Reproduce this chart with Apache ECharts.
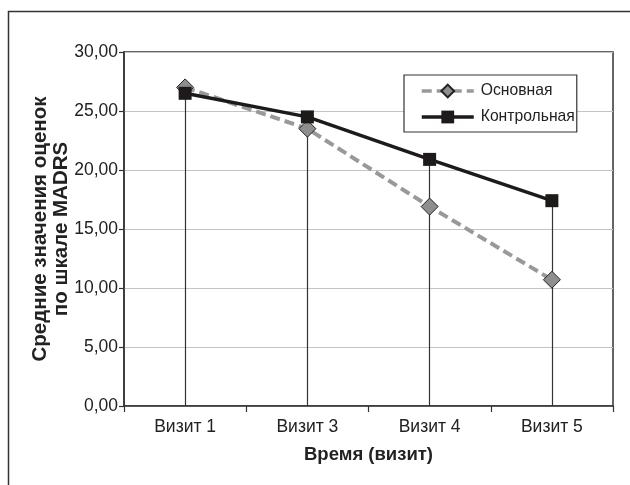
<!DOCTYPE html>
<html>
<head>
<meta charset="utf-8">
<script src="https://cdn.jsdelivr.net/npm/echarts@6/dist/echarts.min.js"></script>
<style>
  html, body { margin: 0; padding: 0; background: #fff; }
  #chart { width: 630px; height: 485px; }
</style>
</head>
<body>
<div id="chart"></div>
<script>
// Visits and mean MADRS scores per group
const visits = ['Визит 1', 'Визит 3', 'Визит 4', 'Визит 5'];
const mainGroup = [27.0, 23.5, 16.9, 10.7];
const controlGroup = [26.5, 24.5, 20.9, 17.4];
const yTicks = [0, 5, 10, 15, 20, 25, 30];

const FONT = '"Liberation Sans", Arial, sans-serif';
const chart = echarts.init(document.getElementById('chart'));

// Drop lines: from the higher of the two points down to the axis
const dropLines = visits.map((v, i) => [
  { coord: [i, Math.max(mainGroup[i], controlGroup[i])] },
  { coord: [i, 0] }
]);

chart.setOption({
  animation: false,
  backgroundColor: '#fff',
  textStyle: { fontFamily: FONT },
  graphic: [{
    type: 'rect',
    shape: { x: 8.5, y: 11.5, width: 660, height: 520 },
    style: { fill: 'none', stroke: '#333', lineWidth: 1.5 },
    z: -1
  }],
  grid: {
    left: 124, top: 52, width: 489, height: 354,
    show: true, borderColor: '#333', borderWidth: 1.5, backgroundColor: 'transparent'
  },
  legend: {
    left: 404, top: 75,
    orient: 'vertical',
    padding: [8, 2, 7, 16],
    itemGap: 10,
    itemWidth: 52, itemHeight: 16,
    borderColor: '#333', borderWidth: 1.2, backgroundColor: '#fff',
    lineStyle: { width: 3.5 },
    textStyle: { fontFamily: FONT, fontSize: 15.7, color: '#222', padding: [0, 0, 0, 2] },
    data: ['Основная', 'Контрольная']
  },
  xAxis: {
    type: 'category',
    data: visits,
    boundaryGap: true,
    name: 'Время (визит)',
    nameLocation: 'middle',
    nameGap: 39,
    nameMoveOverlap: false,
    nameTextStyle: { fontFamily: FONT, fontSize: 18.5, fontWeight: 'bold', color: '#222' },
    axisLine: { lineStyle: { color: '#333', width: 1.5 } },
    axisTick: { show: true, length: 6, lineStyle: { color: '#333', width: 1.2 } },
    axisLabel: { fontFamily: FONT, fontSize: 17.5, color: '#222', margin: 12 },
    splitLine: { show: false }
  },
  yAxis: {
    type: 'value',
    min: yTicks[0], max: yTicks[yTicks.length - 1], interval: 5,
    name: 'Средние значения оценок\nпо шкале MADRS',
    nameLocation: 'middle',
    nameGap: 52,
    nameMoveOverlap: false,
    nameTextStyle: { fontFamily: FONT, fontSize: 20.5, fontWeight: 'bold', color: '#222', lineHeight: 21 },
    axisLine: { show: true, lineStyle: { color: '#333', width: 1.5 } },
    axisTick: { show: true, length: 5, lineStyle: { color: '#333', width: 1.2 } },
    axisLabel: {
      fontFamily: FONT, fontSize: 17.5, color: '#222', margin: 6,
      formatter: v => v.toFixed(2).replace('.', ',')
    },
    splitLine: { show: true, lineStyle: { color: '#c4c4c4', width: 1.2 } }
  },
  series: [
    {
      name: 'Основная',
      type: 'line',
      data: mainGroup,
      symbol: 'diamond',
      symbolSize: 17,
      itemStyle: { color: '#8e8e8e', borderColor: '#222', borderWidth: 1 },
      lineStyle: { color: '#999', width: 4, type: [10, 5] },
      z: 3,
      markLine: {
        silent: true,
        symbol: ['none', 'none'],
        label: { show: false },
        lineStyle: { color: '#333', width: 1.2, type: 'solid' },
        data: dropLines,
        z: 1
      }
    },
    {
      name: 'Контрольная',
      type: 'line',
      data: controlGroup,
      symbol: 'rect',
      symbolSize: 13,
      itemStyle: { color: '#1e1a1a', borderColor: '#1e1a1a', borderWidth: 0 },
      lineStyle: { color: '#1e1a1a', width: 3.5 },
      z: 4
    }
  ]
});
</script>
</body>
</html>
